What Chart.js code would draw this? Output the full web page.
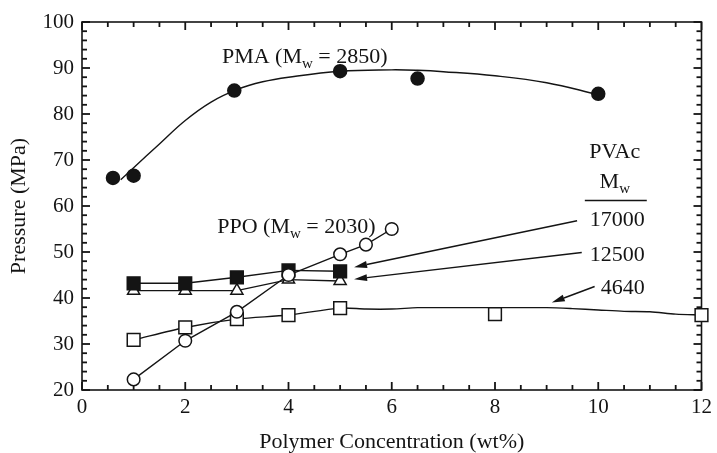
<!DOCTYPE html>
<html>
<head>
<meta charset="UTF-8">
<title>Pressure vs Polymer Concentration</title>
<script src="https://cdn.jsdelivr.net/npm/chart.js"></script>
<style>
  html, body { margin: 0; padding: 0; background: #fff; }
  #wrap { width: 717px; height: 453px; }
</style>
</head>
<body>
<div id="wrap"><canvas id="chart" width="717" height="453"></canvas></div>
<script>
  // axis ticks
  const xTicks = [0, 2, 4, 6, 8, 10, 12];
  const yTicks = [20, 30, 40, 50, 60, 70, 80, 90, 100];

  // PMA (Mw = 2850): measured points + smooth fit
  const pmaX = [0.6, 1.0, 2.95, 5.0, 6.5, 10.0];
  const pmaY = [66.1, 66.6, 85.1, 89.3, 87.7, 84.4];
  const pmaFitX = [0.75, 1, 1.5, 2, 2.5, 3, 3.5, 4, 5, 6, 6.5, 7, 8, 9, 10];
  const pmaFitY = [65.7, 68.3, 73.5, 78.6, 82.6, 85.3, 87, 88, 89.3, 89.6, 89.5, 89.2, 88.3, 86.8, 84.2];

  // PPO (Mw = 2030)
  const ppoX = [1, 2, 3, 4, 5, 5.5, 6];
  const ppoY = [22.3, 30.7, 37.0, 45.0, 49.5, 51.6, 55.0];

  // PVAc, three molecular weights
  const pvacX = [1, 2, 3, 4, 5];
  const pvac17000 = [43.2, 43.2, 44.5, 46.0, 45.8];
  const pvac12500 = [41.6, 41.6, 41.6, 44.0, 43.7];
  const pvac4640X = [1, 2, 3, 4, 5, 8, 12];
  const pvac4640Y = [30.9, 33.6, 35.4, 36.3, 37.8, 36.5, 36.3];
  const pvac4640LineX = [1, 2, 3, 4, 5, 5.5, 6, 6.5, 7, 8, 9, 9.5, 10, 10.5, 11, 11.5, 12];
  const pvac4640LineY = [30.9, 33.6, 35.4, 36.3, 37.8, 37.6, 37.6, 37.9, 37.9, 37.9, 37.9, 37.7, 37.4, 37.1, 37.0, 36.5, 36.3];

  const FONT = '"Liberation Serif", "Times New Roman", serif';
  const INK = '#141414';

  function pts(xs, ys) {
    return xs.map((x, i) => ({ x: x, y: ys[i] }));
  }

  // text labels and arrows, placed in data units
  const notes = [
    { parts: ['PMA (M', '_w', ' = 2850)'], x: 2.71, y: 91.0, align: 'left' },
    { parts: ['PPO (M', '_w', ' = 2030)'], x: 2.62, y: 54.2, align: 'left' },
    { parts: ['PVAc'], x: 10.32, y: 70.5, align: 'center' },
    { parts: ['M', '_w'], x: 10.32, y: 64.0, align: 'center' },
    { parts: ['17000'], x: 10.9, y: 55.7, align: 'right' },
    { parts: ['12500'], x: 10.9, y: 48.1, align: 'right' },
    { parts: ['4640'], x: 10.9, y: 40.9, align: 'right' }
  ];
  const arrows = [
    { from: [9.59, 56.8], to: [5.27, 46.7] },
    { from: [9.68, 49.9], to: [5.27, 44.1] },
    { from: [9.93, 42.5], to: [9.10, 39.0] }
  ];

  function seg(ctx, x0, y0, x1, y1) {
    ctx.beginPath();
    ctx.moveTo(x0, y0);
    ctx.lineTo(x1, y1);
    ctx.stroke();
  }

  // box around the plot plus inward ticks on all four sides
  const framePlugin = {
    id: 'frame',
    beforeDatasetsDraw(chart) {
      const { ctx, chartArea: a } = chart;
      const x = chart.scales.x, y = chart.scales.y;
      ctx.save();
      ctx.strokeStyle = INK;
      ctx.fillStyle = INK;
      ctx.lineWidth = 1.6;
      ctx.strokeRect(a.left, a.top, a.right - a.left, a.bottom - a.top);
      const t = 1.8;
      for (let i = 0; i <= 24; i++) {
        const px = x.getPixelForValue(i * 0.5);
        const len = (i % 4 === 0) ? 8 : 5;
        ctx.fillRect(px - t / 2, a.bottom - len, t, len);
        ctx.fillRect(px - t / 2, a.top, t, len);
      }
      for (let i = 0; i <= 40; i++) {
        const py = y.getPixelForValue(20 + i * 2);
        const len = (i % 5 === 0) ? 8 : 5;
        ctx.fillRect(a.left, py - t / 2, len, t);
        ctx.fillRect(a.right - len, py - t / 2, len, t);
      }
      ctx.restore();
    }
  };

  const notesPlugin = {
    id: 'notes',
    afterDatasetsDraw(chart) {
      const { ctx, scales: { x, y } } = chart;
      ctx.save();
      ctx.fillStyle = INK;
      ctx.strokeStyle = INK;
      ctx.textBaseline = 'alphabetic';
      ctx.textAlign = 'left';

      const main = '22px ' + FONT;
      const sub = '15px ' + FONT;
      notes.forEach(n => {
        let w = 0;
        n.parts.forEach(p => {
          ctx.font = p.startsWith('_') ? sub : main;
          w += ctx.measureText(p.replace('_', '')).width;
        });
        let px = x.getPixelForValue(n.x);
        if (n.align === 'center') px -= w / 2;
        if (n.align === 'right') px -= w;
        const py = y.getPixelForValue(n.y);
        n.parts.forEach(p => {
          const isSub = p.startsWith('_');
          const t = p.replace('_', '');
          ctx.font = isSub ? sub : main;
          ctx.fillText(t, px, py + (isSub ? 5 : 0));
          px += ctx.measureText(t).width;
        });
      });

      // rule under "Mw"
      ctx.lineWidth = 1.6;
      seg(ctx, x.getPixelForValue(9.74), y.getPixelForValue(61.2), x.getPixelForValue(10.94), y.getPixelForValue(61.2));

      // arrows
      arrows.forEach(ar => {
        const x0 = x.getPixelForValue(ar.from[0]), y0 = y.getPixelForValue(ar.from[1]);
        const x1 = x.getPixelForValue(ar.to[0]), y1 = y.getPixelForValue(ar.to[1]);
        const ang = Math.atan2(y1 - y0, x1 - x0);
        const L = 13, W = 3.5;
        const bx = x1 - L * Math.cos(ang), by = y1 - L * Math.sin(ang);
        ctx.lineWidth = 1.5;
        seg(ctx, x0, y0, bx, by);
        ctx.beginPath();
        ctx.moveTo(x1, y1);
        ctx.lineTo(bx + W * Math.sin(ang), by - W * Math.cos(ang));
        ctx.lineTo(bx - W * Math.sin(ang), by + W * Math.cos(ang));
        ctx.closePath();
        ctx.fill();
      });
      ctx.restore();
    }
  };

  const base = {
    showLine: true,
    borderColor: INK,
    borderWidth: 1.4,
    pointBorderColor: INK,
    pointBorderWidth: 1.5,
    pointHoverRadius: 0,
    clip: false
  };

  new Chart(document.getElementById('chart').getContext('2d'), {
    type: 'scatter',
    data: {
      datasets: [
        Object.assign({}, base, {
          label: 'PPO',
          data: pts(ppoX, ppoY),
          pointStyle: 'circle', pointRadius: 6.3,
          pointBackgroundColor: '#fff'
        }),
        Object.assign({}, base, {
          label: 'PVAc 17000',
          data: pts(pvacX, pvac17000),
          pointStyle: 'rect', pointRadius: 9,
          pointBackgroundColor: INK
        }),
        Object.assign({}, base, {
          label: 'PVAc 12500',
          data: pts(pvacX, pvac12500),
          pointStyle: 'triangle', pointRadius: 7,
          pointBackgroundColor: '#fff'
        }),
        Object.assign({}, base, {
          label: 'PVAc 4640',
          data: pts(pvac4640X, pvac4640Y),
          showLine: false,
          pointStyle: 'rect', pointRadius: 9,
          pointBackgroundColor: '#fff'
        }),
        Object.assign({}, base, {
          label: 'PVAc 4640 line',
          data: pts(pvac4640LineX, pvac4640LineY),
          pointRadius: 0,
          tension: 0.3
        }),
        Object.assign({}, base, {
          label: 'PMA',
          data: pts(pmaX, pmaY),
          showLine: false,
          pointStyle: 'circle', pointRadius: 6.5,
          pointBackgroundColor: INK
        }),
        Object.assign({}, base, {
          label: 'PMA fit',
          data: pts(pmaFitX, pmaFitY),
          pointRadius: 0,
          tension: 0.4
        })
      ]
    },
    options: {
      responsive: false,
      animation: false,
      devicePixelRatio: 1,
      layout: { padding: { top: 22, right: 13, left: 0, bottom: 0 } },
      plugins: {
        legend: { display: false },
        tooltip: { enabled: false }
      },
      scales: {
        x: {
          type: 'linear',
          min: 0, max: 12,
          afterBuildTicks: s => { s.ticks = xTicks.map(v => ({ value: v })); },
          afterFit: s => { s.height = 63; },
          grid: { display: false, drawTicks: false },
          border: { display: false },
          ticks: { color: INK, padding: 5, font: { family: FONT, size: 21 } },
          title: {
            display: true,
            text: 'Polymer Concentration (wt%)',
            color: INK,
            padding: { top: 0, bottom: 0 },
            font: { family: FONT, size: 22, lineHeight: 1 }
          }
        },
        y: {
          type: 'linear',
          min: 20, max: 100,
          afterBuildTicks: s => { s.ticks = yTicks.map(v => ({ value: v })); },
          afterFit: s => { s.width = 82; },
          grid: { display: false, drawTicks: false },
          border: { display: false },
          ticks: { color: INK, padding: 8, font: { family: FONT, size: 21 } },
          title: {
            display: true,
            text: 'Pressure (MPa)',
            color: INK,
            padding: { top: 8, bottom: 0 },
            font: { family: FONT, size: 22, lineHeight: 1 }
          }
        }
      }
    },
    plugins: [framePlugin, notesPlugin]
  });
</script>
</body>
</html>
